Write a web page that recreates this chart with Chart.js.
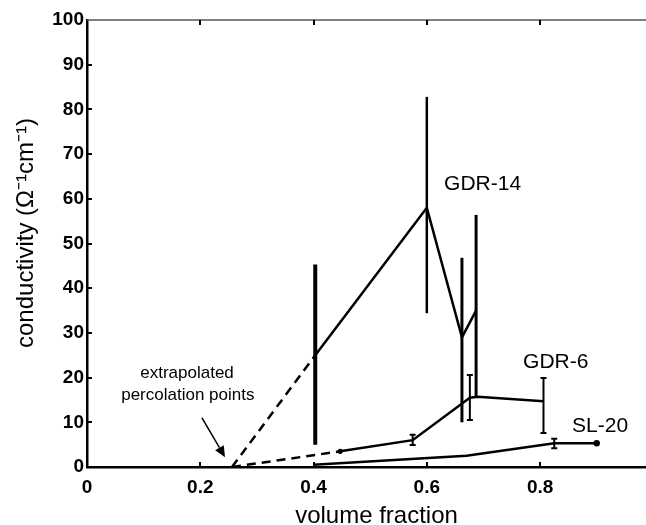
<!DOCTYPE html>
<html>
<head>
<meta charset="utf-8">
<script src="https://cdn.jsdelivr.net/npm/chart.js@4.4.1/dist/chart.umd.min.js"></script>
<style>
html,body{margin:0;padding:0;background:#fff;overflow:hidden;}
canvas{display:block;}
</style>
</head>
<body>
<canvas id="c" width="646" height="525"></canvas>
<script>
// ---- data ----
const percolationX = [0.256, 0.256];          // extrapolated percolation points (GDR-14, GDR-6)
const percolationY = [0, 0];

const gdr14X  = [0.403, 0.600, 0.662, 0.687];
const gdr14Y  = [25.0, 58.0, 29.0, 35.0];
const gdr14Lo = [5.0, 34.4, 10.0, 15.5];
const gdr14Hi = [45.3, 82.8, 46.8, 56.4];

const gdr6X  = [0.447, 0.575, 0.676, 0.690, 0.806];
const gdr6Y  = [3.5, 6.0, 15.5, 15.7, 14.7];
const gdr6Lo = [null, 4.9, 10.5, null, 7.6];
const gdr6Hi = [null, 7.2, 20.6, null, 19.9];

const sl20X  = [0.40, 0.67, 0.825, 0.90];
const sl20Y  = [0.5, 2.5, 5.3, 5.3];
const sl20Lo = [null, null, 4.2, null];
const sl20Hi = [null, null, 6.3, null];

const xTicks = [0, 0.2, 0.4, 0.6, 0.8];
const yTicks = [0, 10, 20, 30, 40, 50, 60, 70, 80, 90, 100];

const seriesNames = ['GDR-14', 'GDR-6', 'SL-20'];
const noteLines = ['extrapolated', 'percolation points'];
const yTitle = 'conductivity (\u03A9\u207B\u00B9cm\u207B\u00B9)';
const xTitle = 'volume fraction';

// ---- styling / placement (not data) ----
const labelPos = [
  {x: 0.6985, y: 61.9, align: 'center'},
  {x: 0.770,  y: 22.1, align: 'left'},
  {x: 0.8565, y: 7.8,  align: 'left'}
];
const notePos = [{x: 0.1766, y: 19.9}, {x: 0.178, y: 15.0}];
const arrowFrom = {x: 0.203, y: 11.0};
const arrowTo = {x: 0.2437, y: 2.2};
const gdr14BarWidths = [4, 2.5, 3, 3];

const pts = (xs, ys) => xs.map((x, i) => ({x: x, y: ys[i]}));

const errorBars = [
  {xs: gdr14X, lo: gdr14Lo, hi: gdr14Hi, widths: gdr14BarWidths, cap: 0},
  {xs: gdr6X, lo: gdr6Lo, hi: gdr6Hi, widths: null, cap: 3},
  {xs: sl20X, lo: sl20Lo, hi: sl20Hi, widths: null, cap: 3}
];

const decor = {
  id: 'decor',
  afterDatasetsDraw(chart) {
    const ctx = chart.ctx, xs = chart.scales.x, ys = chart.scales.y, a = chart.chartArea;
    ctx.save();
    // error bars
    ctx.strokeStyle = '#000';
    errorBars.forEach(eb => {
      eb.xs.forEach((xv, i) => {
        if (eb.lo[i] == null) return;
        const px = xs.getPixelForValue(xv);
        const p1 = ys.getPixelForValue(eb.lo[i]);
        const p2 = ys.getPixelForValue(eb.hi[i]);
        ctx.lineWidth = eb.widths ? eb.widths[i] : 2;
        ctx.beginPath(); ctx.moveTo(px, p1); ctx.lineTo(px, p2); ctx.stroke();
        if (eb.cap) {
          ctx.lineWidth = 2;
          ctx.beginPath();
          ctx.moveTo(px - eb.cap, p1); ctx.lineTo(px + eb.cap, p1);
          ctx.moveTo(px - eb.cap, p2); ctx.lineTo(px + eb.cap, p2);
          ctx.stroke();
        }
      });
    });
    // end markers
    const lx = xs.getPixelForValue(sl20X[sl20X.length - 1]);
    const ly = ys.getPixelForValue(sl20Y[sl20Y.length - 1]);
    ctx.fillStyle = '#000';
    ctx.beginPath(); ctx.arc(lx, ly, 3.2, 0, Math.PI * 2); ctx.fill();
    const fx = xs.getPixelForValue(gdr6X[0]), fy = ys.getPixelForValue(gdr6Y[0]);
    ctx.beginPath(); ctx.arc(fx, fy, 2.6, 0, Math.PI * 2); ctx.fill();

    // top border
    ctx.strokeStyle = '#555'; ctx.lineWidth = 1.5;
    ctx.beginPath(); ctx.moveTo(a.left, a.top); ctx.lineTo(a.right, a.top); ctx.stroke();
    // inward ticks
    ctx.strokeStyle = '#000'; ctx.lineWidth = 2;
    xTicks.forEach(t => {
      if (t === 0) return;
      const px = Math.round(xs.getPixelForValue(t));
      ctx.beginPath(); ctx.moveTo(px, a.bottom); ctx.lineTo(px, a.bottom - 5); ctx.stroke();
      ctx.beginPath(); ctx.moveTo(px, a.top); ctx.lineTo(px, a.top + 5); ctx.stroke();
    });
    yTicks.forEach(t => {
      if (t === 0 || t === 100) return;
      const py = Math.round(ys.getPixelForValue(t));
      ctx.beginPath(); ctx.moveTo(a.left, py); ctx.lineTo(a.left + 5, py); ctx.stroke();
    });

    // series labels
    ctx.fillStyle = '#000';
    ctx.textBaseline = 'alphabetic';
    ctx.font = '21px "Liberation Sans", Arial, sans-serif';
    seriesNames.forEach((s, i) => {
      ctx.textAlign = labelPos[i].align;
      ctx.fillText(s, xs.getPixelForValue(labelPos[i].x), ys.getPixelForValue(labelPos[i].y));
    });
    // note
    ctx.font = '17px "Liberation Sans", Arial, sans-serif';
    ctx.textAlign = 'center';
    noteLines.forEach((s, i) => {
      ctx.fillText(s, xs.getPixelForValue(notePos[i].x), ys.getPixelForValue(notePos[i].y));
    });
    // arrow
    const ax1 = xs.getPixelForValue(arrowFrom.x), ay1 = ys.getPixelForValue(arrowFrom.y);
    const ax2 = xs.getPixelForValue(arrowTo.x), ay2 = ys.getPixelForValue(arrowTo.y);
    const ang = Math.atan2(ay2 - ay1, ax2 - ax1);
    const hl = 11, hw = 5;
    const bx = ax2 - hl * Math.cos(ang), by = ay2 - hl * Math.sin(ang);
    ctx.lineWidth = 1.5;
    ctx.beginPath(); ctx.moveTo(ax1, ay1); ctx.lineTo(bx, by); ctx.stroke();
    ctx.beginPath();
    ctx.moveTo(ax2, ay2);
    ctx.lineTo(bx + hw * Math.sin(ang), by - hw * Math.cos(ang));
    ctx.lineTo(bx - hw * Math.sin(ang), by + hw * Math.cos(ang));
    ctx.closePath(); ctx.fill();

    // axis titles
    ctx.font = '24px "Liberation Sans", Arial, sans-serif';
    ctx.textAlign = 'center';
    ctx.fillText(xTitle, (a.left + a.right) / 2 + 10, 523);
    ctx.translate(33, 233);
    ctx.rotate(-Math.PI / 2);
    ctx.fillText(yTitle, 0, 0);
    ctx.restore();
  }
};

const solid = {borderColor: '#000', borderWidth: 2.5, pointRadius: 0, showLine: true, fill: false, tension: 0};
const dashed = Object.assign({}, solid, {borderDash: [9, 6]});
const tickFont = {family: '"Liberation Sans", Arial, sans-serif', size: 19, weight: 'bold'};

new Chart(document.getElementById('c'), {
  type: 'scatter',
  data: {
    datasets: [
      Object.assign({label: seriesNames[0], data: pts(gdr14X, gdr14Y)}, solid),
      Object.assign({label: seriesNames[0] + ' extrapolated', data: [{x: percolationX[0], y: percolationY[0]}, {x: gdr14X[0], y: gdr14Y[0]}]}, dashed),
      Object.assign({label: seriesNames[1], data: pts(gdr6X, gdr6Y)}, solid),
      Object.assign({label: seriesNames[1] + ' extrapolated', data: [{x: percolationX[1], y: percolationY[1]}, {x: gdr6X[0], y: gdr6Y[0]}]}, dashed),
      Object.assign({label: seriesNames[2], data: pts(sl20X, sl20Y)}, solid)
    ]
  },
  options: {
    responsive: false,
    animation: false,
    events: [],
    layout: {padding: {top: 20, right: 0, left: 0, bottom: 0}},
    plugins: {legend: {display: false}, tooltip: {enabled: false}},
    scales: {
      x: {
        type: 'linear', min: 0, max: 0.987,
        afterFit: s => { s.height = 58; },
        afterBuildTicks: s => { s.ticks = xTicks.map(v => ({value: v})); },
        grid: {display: false, drawTicks: false},
        border: {display: true, color: '#000', width: 2.5},
        ticks: {color: '#000', padding: 9, maxRotation: 0, font: tickFont,
          callback: v => String(v)}
      },
      y: {
        type: 'linear', min: 0, max: 100,
        afterFit: s => { s.width = 87; },
        afterBuildTicks: s => { s.ticks = yTicks.map(v => ({value: v})); },
        grid: {display: false, drawTicks: false},
        border: {display: true, color: '#000', width: 2.5},
        ticks: {color: '#000', padding: 3, font: tickFont,
          callback: v => String(v)}
      }
    }
  },
  plugins: [decor]
});
</script>
</body>
</html>
